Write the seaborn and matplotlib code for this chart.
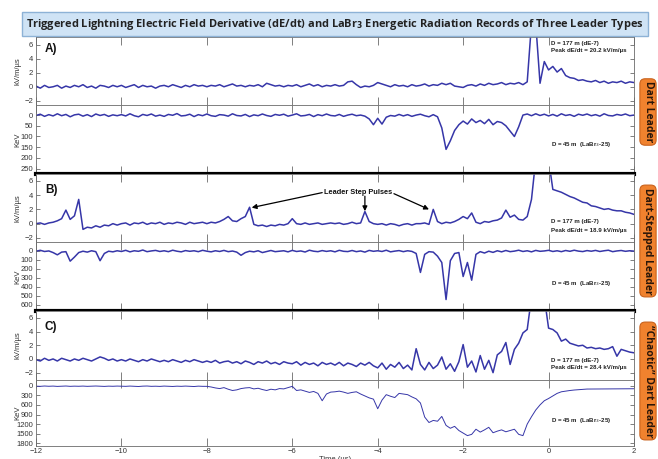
import numpy as np
import pandas as pd
import matplotlib
matplotlib.use("Agg")
import matplotlib.pyplot as plt
import seaborn as sns
from matplotlib.patches import FancyBboxPatch

# ---------------- data ----------------
time_us = np.round(np.linspace(-12, 2, 141), 1)   # sampling grid, 0.1 us

A_dE = [0.1, -0.2, 0.2, -0.1, 0.0, 0.2, -0.2, 0.1, -0.1, 0.2,
        0.0, 0.3, -0.1, 0.1, -0.2, 0.2, 0.1, -0.1, 0.2, 0.0,
        0.2, -0.1, 0.1, 0.3, -0.1, 0.2, 0.0, 0.1, -0.2, 0.1,
        0.2, 0.0, 0.3, 0.1, -0.1, 0.2, 0.0, 0.3, 0.1, 0.2,
        0.0, 0.2, 0.1, 0.3, 0.0, 0.2, 0.4, 0.1, 0.2, 0.0,
        0.2, 0.1, 0.3, 0.0, 0.5, 0.3, 0.1, 0.2, 0.0, 0.2,
        0.1, 0.3, 0.0, 0.2, 0.4, 0.1, 0.3, 0.0, 0.2, 0.1,
        0.3, 0.1, 0.2, 0.7, 0.8, 0.3, -0.1, 0.1, 0.0, 0.2,
        0.6, 0.4, 0.2, 0.0, 0.3, 0.1, 0.2, 0.0, 0.3, 0.1,
        0.2, 0.4, 0.1, 0.3, 0.2, 0.5, 0.3, 0.5, 0.1, 0.0,
        -0.1, 0.2, 0.3, 0.1, 0.4, 0.2, 0.5, 0.3, 0.4, 0.6,
        0.3, 0.5, 0.4, 0.6, 0.3, 0.7, 9.0, 9.0, 0.5, 3.6,
        2.4, 2.9, 2.1, 2.6, 1.6, 1.3, 1.2, 0.9, 1.0, 0.8,
        0.7, 0.9, 0.6, 0.8, 0.5, 0.7, 0.6, 0.8, 0.5, 0.7,
        0.6]

A_LaBr = [2, -4, 6, -2, 4, -6, 3, -3, 8, -1,
          -4, 5, -2, 7, -5, 2, -3, 6, -1, 3,
          -2, 4, -6, 3, 8, -3, 2, -5, 5, 0,
          6, -3, 1, -7, 4, 2, -4, 7, -2, 3,
          -5, 3, 6, -2, 0, 5, -6, 2, 4, -3,
          7, -1, 3, -5, 2, 6, -3, 1, -4, 5,
          0, -6, 4, 2, -3, 7, -2, 3, -5, 2,
          4, -3, 6, 0, -4, 3, 0, 5, 18, 45,
          15, 42, 10, 2, 5, -3, 4, -2, 6, 0,
          -4, 3, 8, -2, 8, 60, 160, 120, 72, 45,
          28, 42, 18, 35, 25, 40, 20, 45, 30, 35,
          50, 75, 100, 55, 0, -5, 3, -6, 2, -4,
          4, -3, 5, -6, 2, -2, 6, -4, 1, -5,
          3, -2, 5, -6, 2, 4, -3, 1, -5, 3,
          0]

B_dE = [0.0, 0.1, -0.1, 0.1, 0.2, 0.4, 0.7, 1.9, 0.6, 1.1,
        3.4, -0.8, -0.5, -0.6, -0.3, -0.5, -0.2, -0.3, 0.0, -0.2,
        0.0, 0.1, -0.2, 0.1, 0.0, 0.2, -0.1, 0.1, 0.0, 0.2,
        -0.1, 0.1, 0.0, 0.2, 0.1, -0.1, 0.2, 0.0, 0.1, 0.2,
        0.0, 0.2, 0.1, 0.3, 0.6, 1.0, 0.4, 0.3, 0.7, 1.0,
        2.3, -0.1, -0.3, -0.2, -0.4, -0.2, -0.3, -0.1, -0.2, 0.0,
        0.7, 0.0, -0.1, 0.1, -0.1, 0.0, 0.1, -0.1, 0.0, 0.1,
        0.0, 0.1, -0.1, 0.0, 0.2, 0.0, 0.1, 1.7, 0.3, 0.0,
        -0.1, 0.0, -0.2, 0.0, -0.1, -0.3, -0.1, 0.0, -0.2, 0.0,
        0.0, 0.1, -0.1, 2.0, 0.3, 0.0, 0.2, 0.1, 0.3, 0.6,
        1.0, 0.7, 1.5, 0.2, 0.0, 0.3, 0.2, 0.4, 0.5, 0.8,
        1.9, 0.9, 1.2, 0.6, 0.5, 1.0, 3.4, 9.0, 9.0, 9.0,
        9.0, 4.8, 4.6, 4.4, 4.1, 3.8, 3.6, 3.3, 3.0, 2.9,
        2.5, 2.4, 2.2, 2.0, 2.1, 1.9, 1.8, 1.8, 1.6, 1.5,
        1.3]

B_LaBr = [5, -5, 8, 2, 20, 45, 15, 10, 115, 70,
          20, 5, 15, 0, 10, 110, 30, 5, 12, 0,
          8, -5, 12, 0, 6, -8, 10, 2, -4, 8,
          0, 10, -6, 5, 12, -2, 6, 0, 10, -5,
          5, 12, 0, 8, -4, 10, 3, 15, 50, 20,
          5, 12, 0, 20, 8, -3, 10, 5, 0, 12,
          -4, 8, 2, 14, -6, 5, 10, -2, 7, 0,
          12, -5, 6, 9, -3, 10, 2, 15, -4, 6,
          0, 8, -6, 12, 4, -2, 10, 0, 7, 30,
          240, 40, 10, 15, 60, 130, 540, 110, 30, 20,
          285, 130, 326, 40, 10, 25, 5, 18, 0, 12,
          -3, 10, 4, -6, 8, 0, 12, -4, 6, 2,
          -5, 8, 0, 10, -3, 6, -6, 4, 9, -2,
          5, -4, 8, 0, -6, 10, 2, -3, 6, 0,
          4]

C_dE = [-0.1, -0.3, 0.1, -0.2, 0.0, -0.3, 0.1, -0.1, -0.3, 0.0,
        -0.2, 0.1, -0.1, -0.3, 0.0, 0.3, 0.1, -0.2, 0.0, -0.3,
        -0.1, -0.3, 0.0, -0.2, -0.4, -0.1, -0.3, 0.0, -0.2, -0.4,
        -0.2, -0.4, -0.1, -0.3, -0.5, -0.2, -0.4, -0.1, -0.3, -0.5,
        -0.3, -0.5, -0.2, -0.6, -0.4, -0.3, -0.6, -0.4, -0.7, -0.3,
        -0.5, -0.8, -0.4, -0.6, -0.3, -0.7, -0.5, -0.8, -0.4, -0.6,
        -0.7, -0.4, -0.9, -0.5, -0.8, -0.6, -1.0, -0.5, -0.8, -0.6,
        -0.9, -0.5, -1.0, -0.6, -0.8, -1.1, -0.6, -0.9, -0.5, -1.0,
        -1.3, -0.6, -1.5, -0.8, -1.2, -0.5, -1.4, -0.9, -1.6, 1.5,
        -0.8, -1.6, -0.5, -1.4, -0.9, 0.3, -1.5, -0.7, -1.8, -0.4,
        2.1, -1.2, -0.3, -1.9, 0.5, -1.5, -0.2, -2.0, 0.6, 1.1,
        2.4, -0.8, 1.4, 2.3, 3.8, 4.3, 9.0, 9.0, 9.0, 9.0,
        4.5, 4.3, 3.8, 2.6, 2.9, 2.3, 2.1, 1.9, 2.0, 1.6,
        1.7, 1.5, 1.6, 1.4, 1.5, 1.8, 0.4, 1.4, 1.2, 1.0,
        0.9]

C_LaBr = [15, 20, 10, 18, 12, 22, 15, 10, 20, 14,
          18, 12, 20, 15, 10, 16, 22, 14, 18, 12,
          15, 20, 12, 18, 25, 14, 10, 20, 16, 22,
          12, 18, 24, 15, 20, 12, 18, 26, 14, 20,
          20, 40, 70, 90, 60, 110, 150, 130, 90, 70,
          60, 100, 80, 120, 150, 110, 130, 90, 100, 60,
          20, 150, 130, 170, 210, 180, 240, 470, 260, 200,
          190, 170, 200, 240, 210, 190, 260, 320, 380, 420,
          720, 450, 280, 330, 370, 240, 260, 280, 350, 410,
          540, 980, 1150, 1085, 1110, 960, 1240, 1330, 1270, 1400,
          1480, 1560, 1520, 1360, 1450, 1380, 1300, 1470, 1420, 1380,
          1440, 1400, 1360, 1520, 1560, 1200, 970, 760, 600, 470,
          400, 320, 240, 190, 170, 150, 135, 125, 115, 105,
          104, 100, 102, 98, 100, 97, 99, 96, 98, 95,
          95]

x_ticks = [-12, -10, -8, -6, -4, -2, 0, 2]
dE_ticks = [-2, 0, 2, 4, 6]
A_LaBr_ticks = [0, 50, 100, 150, 200, 250]
B_LaBr_ticks = [0, 100, 200, 300, 400, 500, 600]
C_LaBr_ticks = [0, 300, 600, 900, 1200, 1500, 1800]

panel_letters = ["A)", "B)", "C)"]
peak_values = ["20.2", "18.9", "28.4"]
leader_types = ["Dart Leader", "Dart-Stepped Leader", "\u201cChaotic\u201d Dart Leader"]

for arr in (A_dE, A_LaBr, B_dE, B_LaBr, C_dE, C_LaBr):
    assert len(arr) == len(time_us), len(arr)

# ---------------- style ----------------
sns.set_theme(style="ticks")
plt.rcParams["font.family"] = ["Liberation Sans", "DejaVu Sans"]
TRACE = "#3636a8"
SPINE = "#6a6a6a"

W, H = 658, 459
fig = plt.figure(figsize=(W / 100, H / 100), dpi=100)
fig.patch.set_facecolor("white")

L, R = 36, 634


def add_ax(top, bot):
    return fig.add_axes([L / W, 1 - bot / H, (R - L) / W, (bot - top) / H])


# panel pixel extents (top, bottom)
rows = [
    (37, 105, 105, 174),
    (174, 242, 242, 311),
    (311, 380, 380, 446),
]
dE_data = [A_dE, B_dE, C_dE]
LaBr_data = [A_LaBr, B_LaBr, C_LaBr]
dE_lims = [(-2.6, 7.1), (-2.57, 6.96), (-3.07, 7.0)]
LaBr_lims = [(275, -47), (667, -97), (1884, -178)]
LaBr_ticks = [A_LaBr_ticks, B_LaBr_ticks, C_LaBr_ticks]
LaBr_lw = [1.1, 1.1, 0.7]
letter_y = [0.83, 0.76, 0.77]
note_y = [(0.907, 0.80), (0.30, 0.176), (0.28, 0.184)]
labr_note_y = [0.43, 0.40, 0.39]


def style(ax):
    ax.set_xlim(-12, 2)
    ax.set_xticks(x_ticks)
    for s in ax.spines.values():
        s.set_color(SPINE)
        s.set_linewidth(0.6)
    ax.tick_params(axis="x", direction="in", length=6, width=0.6, color=SPINE,
                   top=True, bottom=True, labelbottom=False, labelsize=5.5,
                   labelcolor="#333333", pad=2)
    ax.tick_params(axis="y", direction="in", length=3, width=0.6, color=SPINE,
                   left=True, right=True, labelsize=5.5, labelcolor="#333333",
                   pad=2)
    ax.set_xlabel("")
    ax.patch.set_facecolor("white")


axes_dE, axes_LaBr = [], []
for i, (t1, b1, t2, b2) in enumerate(rows):
    ax1 = add_ax(t1, b1)
    sns.lineplot(x=time_us, y=dE_data[i], ax=ax1, color=TRACE, lw=1.1,
                 estimator=None)
    style(ax1)
    ax1.set_ylim(*dE_lims[i])
    ax1.set_yticks(dE_ticks)
    ax1.set_ylabel("kV/m/\u00b5s", fontsize=5.5, color="#333333")
    ax1.yaxis.set_label_coords(-0.024, 0.5)
    ax1.text(0.015, letter_y[i], panel_letters[i], transform=ax1.transAxes,
             fontsize=8.5, fontweight="bold", color="#111111", va="center",
             ha="left")
    ax1.text(0.862, note_y[i][0], "D = 177 m (dE-7)", transform=ax1.transAxes,
             fontsize=4.4, fontweight="bold", color="#222222", va="center")
    ax1.text(0.862, note_y[i][1],
             "Peak dE/dt = %s kV/m/\u00b5s" % peak_values[i],
             transform=ax1.transAxes, fontsize=4.4, fontweight="bold",
             color="#222222", va="center")

    ax2 = add_ax(t2, b2)
    sns.lineplot(x=time_us, y=LaBr_data[i], ax=ax2, color=TRACE,
                 lw=LaBr_lw[i], estimator=None)
    style(ax2)
    ax2.set_ylim(*LaBr_lims[i])
    ax2.set_yticks(LaBr_ticks[i])
    ax2.set_ylabel("KeV", fontsize=5.5, color="#333333")
    ax2.yaxis.set_label_coords(-0.024, 0.5)
    ax2.text(0.862, labr_note_y[i], "D = 45 m  (LaBr$_3$-25)",
             transform=ax2.transAxes, fontsize=4.4, fontweight="bold",
             color="#222222", va="center")
    if i < 2:
        ax2.spines["bottom"].set_color("black")
        ax2.spines["bottom"].set_linewidth(3.0)
        ax2.spines["bottom"].set_zorder(10)
    axes_dE.append(ax1)
    axes_LaBr.append(ax2)

# bottom axis labels
axb = axes_LaBr[2]
axb.tick_params(axis="x", labelbottom=True, pad=1.5)
axb.set_xlabel("Time (\u00b5s)", fontsize=5.5, color="#333333", labelpad=0.5)

# Leader step pulse annotation (panel B dE)
axB = axes_dE[1]
axB.text(-4.46, 4.43, "Leader Step Pulses", fontsize=5.3, fontweight="bold",
         color="#111111", ha="center", va="center")
arrow_kw = dict(arrowstyle="-|>", color="black", lw=0.9, mutation_scale=7,
                shrinkA=0, shrinkB=0)
axB.annotate("", xy=(-6.95, 2.25), xytext=(-5.3, 4.35), arrowprops=arrow_kw)
axB.annotate("", xy=(-4.3, 1.75), xytext=(-4.3, 3.85), arrowprops=arrow_kw)
axB.annotate("", xy=(-2.8, 2.0), xytext=(-3.62, 4.2), arrowprops=arrow_kw)

# title box
box = FancyBboxPatch((22 / W, 1 - 36 / H), (648 - 22) / W, 24 / H,
                     boxstyle="square,pad=0", transform=fig.transFigure,
                     facecolor="#cfe3f5", edgecolor="#8db2d6", lw=1.0)
fig.patches.append(box)
title = fig.text(335 / W, 1 - 24.5 / H,
                 "Triggered Lightning Electric Field Derivative (dE/dt) and "
                 "LaBr$_\\mathbf{3}$ Energetic Radiation Records of Three Leader Types",
                 fontsize=9, fontweight="bold", color="#222222",
                 family=["Open Sans", "DejaVu Sans"], ha="center", va="center")
fig.canvas.draw()
w = title.get_window_extent().width
title.set_fontsize(9 * 615 / w)

# orange side labels
side_y = [112, 241, 381]
for txt, yc in zip(leader_types, side_y):
    fig.text(648 / W, 1 - yc / H, txt, rotation=270, fontsize=7.5,
             fontweight="bold", color="#2a1608",
             family=["Open Sans", "DejaVu Sans"], ha="center", va="center",
             bbox=dict(boxstyle="round,pad=0.25,rounding_size=0.5",
                       facecolor="#f0822e", edgecolor="#c9621c", lw=0.8))

fig.savefig("out.png", dpi=100)
